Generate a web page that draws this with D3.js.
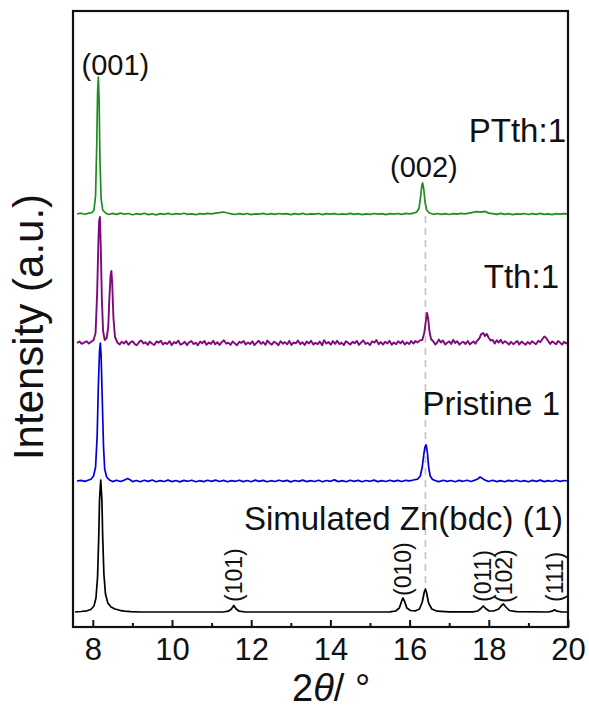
<!DOCTYPE html>
<html>
<head>
<meta charset="utf-8">
<script src="https://cdn.jsdelivr.net/npm/d3@7"></script>
<style>
  html, body { margin: 0; padding: 0; background: #fff; }
  svg text { font-family: "Liberation Sans", Arial, sans-serif; fill: #111; }
</style>
</head>
<body>
<svg id="chart" width="589" height="712"></svg>
<script>
// ---------------- DATA ----------------
const xTicks = [8, 10, 12, 14, 16, 18, 20];
const xMinorTicks = [9, 11, 13, 15, 17, 19];
const seriesNames = ["Simulated Zn(bdc) (1)", "Pristine 1", "Tth:1", "PTth:1"];
const seriesOffsets = [15, 146, 284, 413];
const seriesColors = ["#000000", "#0000d8", "#7d0a7d", "#1e8c1e"];

// [2theta, intensity above own baseline]
const simulatedPts = [
  [7.55,0],[7.7,0.5],[7.85,1.2],[7.95,2.5],[8.03,6],[8.08,14],[8.12,35],[8.15,75],[8.17,112],[8.2,132],
  [8.23,112],[8.25,75],[8.28,38],[8.32,18],[8.38,9],[8.46,5],[8.56,3],[8.68,1.7],[8.8,0.9],[8.95,0.3],
  [9.2,0],[11.3,0],[11.42,0.8],[11.5,3],[11.56,6.5],[11.62,3],[11.7,0.8],[11.85,0],[15.5,0.2],[15.65,1],
  [15.74,4],[15.8,11],[15.83,14],[15.87,11],[15.93,4],[16.02,1.5],[16.15,1.2],[16.25,3],[16.32,10],[16.37,20],
  [16.4,23],[16.43,19],[16.48,9],[16.56,3],[16.7,0.8],[17.0,0.2],[17.6,0.2],[17.72,1],[17.8,3.5],[17.86,6],
  [17.92,3.5],[18.0,1.2],[18.12,1],[18.25,3],[18.32,6.5],[18.37,8],[18.43,5],[18.52,1.5],[18.7,0.3],[19.5,0],
  [19.6,0.8],[19.66,2.2],[19.72,0.8],[19.85,0],[20.0,0]
];

const pristinePts = [
  [7.6,0],[7.7,0.6],[7.8,-0.4],[7.88,0.8],[7.95,1.8],[8.02,5],[8.07,14],[8.11,45],[8.14,95],[8.17,130],
  [8.19,138],[8.21,125],[8.24,80],[8.27,35],[8.3,12],[8.35,4],[8.42,1],[8.5,-0.6],[8.6,0.8],[8.7,-0.5],
  [8.8,0.9],[8.88,2.5],[8.94,1.2],[9.0,-0.6],[9.1,0.5],[9.2,-0.8],[9.3,0.7],[9.4,-0.4],[9.5,1],[9.6,-0.7],
  [9.7,0.4],[9.8,-0.5],[9.9,0.9],[10.0,-0.6],[10.1,0.5],[10.2,-0.9],[10.3,0.6],[10.4,-0.3],[10.5,0.8],[10.6,-0.7],
  [10.7,0.3],[10.8,-0.6],[10.9,0.7],[11.0,-0.4],[11.1,0.9],[11.2,-0.5],[11.3,0.6],[11.4,-0.8],[11.5,0.4],[11.6,-0.3],
  [11.7,0.8],[11.8,-0.6],[11.9,0.5],[12.0,-0.7],[12.1,0.9],[12.2,-0.4],[12.3,0.6],[12.4,-0.8],[12.5,0.3],[12.6,-0.5],
  [12.7,0.8],[12.8,-0.3],[12.9,0.6],[13.0,-0.9],[13.1,0.5],[13.2,-0.4],[13.3,0.9],[13.4,-0.6],[13.5,0.4],[13.6,-0.5],
  [13.7,0.7],[13.8,-0.8],[13.9,0.5],[14.0,-0.3],[14.1,1.1],[14.2,-0.6],[14.3,0.4],[14.4,-0.7],[14.5,0.8],[14.6,-0.4],
  [14.7,0.6],[14.8,-0.8],[14.9,0.5],[15.0,-0.3],[15.1,0.9],[15.2,-0.6],[15.3,0.4],[15.4,-0.5],[15.5,0.8],[15.6,-0.4],
  [15.7,0.6],[15.8,-0.5],[15.9,0.7],[16.0,0.2],[16.1,1],[16.2,1.8],[16.27,5],[16.32,14],[16.36,27],[16.39,34],
  [16.42,36],[16.45,28],[16.48,14],[16.52,5],[16.58,1.5],[16.66,0.2],[16.75,-0.6],[16.85,0.7],[16.95,-0.4],[17.05,0.5],
  [17.15,-0.7],[17.25,0.6],[17.35,-0.3],[17.45,0.8],[17.55,-0.5],[17.65,0.9],[17.72,2],[17.78,4],[17.84,2.5],[17.92,0.6],
  [18.0,-0.5],[18.1,0.7],[18.2,-0.6],[18.3,0.4],[18.4,-0.8],[18.5,0.6],[18.6,-0.3],[18.7,0.8],[18.8,-0.5],[18.9,0.4],
  [19.0,-0.7],[19.1,0.6],[19.2,-0.4],[19.3,0.9],[19.4,-0.6],[19.5,0.3],[19.6,-0.5],[19.7,0.8],[19.8,-0.4],[19.9,0.5],
  [20.0,0]
];

const tthPts = [
  [7.6,0],[7.66,1.5],[7.72,-0.8],[7.78,0.4],[7.84,1.8],[7.9,-0.6],[7.96,1.2],[8.02,3],[8.07,10],[8.11,50],
  [8.14,100],[8.16,122],[8.18,126],[8.2,98],[8.23,42],[8.26,12],[8.3,3],[8.35,5],[8.39,16],[8.42,46],
  [8.45,68],[8.47,72],[8.49,60],[8.52,26],[8.56,6],[8.62,0.5],[8.68,-1.5],[8.73,1.2],[8.79,-0.4],[8.84,2.0],
  [8.9,-1.8],[8.95,0.6],[9.0,1.8],[9.06,-1.2],[9.11,-2.2],[9.17,1.0],[9.22,2.6],[9.28,-0.5],[9.33,0.8],[9.39,-1.9],
  [9.44,1.4],[9.5,-0.8],[9.55,-2.0],[9.61,1.6],[9.66,0.2],[9.72,2.2],[9.77,-1.4],[9.83,0.4],[9.88,-1.0],[9.94,1.8],
  [9.99,-2.2],[10.05,0.9],[10.1,-0.3],[10.16,2.4],[10.21,-1.6],[10.27,-0.6],[10.32,1.3],[10.38,-2.1],[10.43,0.7],[10.49,1.9],
  [10.54,-1.1],[10.6,0.3],[10.65,-2.3],[10.71,1.5],[10.76,-0.2],[10.82,2.0],[10.87,-1.7],[10.93,0.5],[10.98,-0.9],[11.04,2.3],
  [11.09,-1.3],[11.15,0.8],[11.2,-2.0],[11.26,1.1],[11.31,2.7],[11.37,-0.8],[11.42,0.4],[11.48,-1.9],[11.53,1.6],[11.59,-0.6],
  [11.64,-2.2],[11.7,1.2],[11.75,0.1],[11.81,2.1],[11.86,-1.5],[11.92,0.6],[11.97,-1.0],[12.03,1.7],[12.08,-2.1],[12.14,0.3],
  [12.19,2.2],[12.25,-0.9],[12.3,1.0],[12.36,-1.8],[12.41,2.5],[12.47,-0.4],[12.52,-1.6],[12.58,1.3],[12.63,0.0],[12.69,-2.2],
  [12.74,1.8],[12.8,-0.7],[12.85,0.9],[12.91,-1.4],[12.96,2.1],[13.02,-1.9],[13.07,0.5],[13.13,-0.3],[13.18,2.4],[13.24,-1.2],
  [13.29,0.8],[13.35,-2.0],[13.4,1.5],[13.46,-0.5],[13.51,2.3],[13.57,-1.6],[13.62,0.2],[13.68,-1.1],[13.73,1.4],[13.79,-2.3],
  [13.84,2.8],[13.9,-0.6],[13.95,1.0],[14.01,-1.7],[14.06,1.9],[14.12,-0.9],[14.17,2.3],[14.23,-1.3],[14.28,0.4],[14.34,-2.1],
  [14.39,1.7],[14.45,0.1],[14.5,-1.5],[14.56,1.2],[14.61,-0.3],[14.67,2.0],[14.72,-1.9],[14.78,0.7],[14.83,2.5],[14.89,-1.0],
  [14.94,0.3],[15.0,-2.1],[15.05,1.6],[15.11,0.4],[15.16,2.9],[15.22,-1.2],[15.27,0.9],[15.33,-1.6],[15.38,1.3],[15.44,-0.5],
  [15.49,2.2],[15.55,-1.8],[15.6,0.6],[15.66,-1.2],[15.71,1.8],[15.77,-0.4],[15.82,2.0],[15.88,-1.5],[15.93,0.7],[15.99,-1.1],
  [16.04,1.9],[16.1,-0.6],[16.15,2.1],[16.2,0.4],[16.26,2.6],[16.32,3],[16.37,10],[16.41,22],[16.44,30],[16.47,24],
  [16.5,12],[16.54,4],[16.6,1.5],[16.65,-1.5],[16.7,0.6],[16.74,3.5],[16.79,0.5],[16.84,2.6],[16.9,-1.4],[16.95,0.2],
  [17.0,1.6],[17.05,-1.0],[17.1,3.2],[17.15,0],[17.2,1.8],[17.26,-1.6],[17.31,0.4],[17.36,1.2],[17.41,-1.0],[17.47,2],
  [17.52,-1.4],[17.57,0.3],[17.62,1.6],[17.66,-0.8],[17.71,2.4],[17.76,4.5],[17.81,9],[17.86,10],[17.9,7],[17.95,9],
  [18.0,5],[18.05,2.4],[18.1,3.0],[18.15,-0.6],[18.2,2.8],[18.25,0.4],[18.3,3.2],[18.35,-0.4],[18.41,1.8],[18.46,0.2],
  [18.51,-1.6],[18.56,1.2],[18.62,-1.2],[18.67,0.6],[18.72,2.0],[18.77,-1.4],[18.83,1.4],[18.88,-0.2],[18.93,-1.8],[18.98,1.0],
  [19.04,-1.0],[19.09,1.8],[19.14,0.2],[19.19,-1.2],[19.25,2.2],[19.3,0.8],[19.35,3.8],[19.4,6.5],[19.45,5],[19.5,2],
  [19.55,-1],[19.6,1.6],[19.65,0.2],[19.7,-1.2],[19.75,2],[19.8,0.4],[19.85,-1.6],[19.9,1.2],[19.95,-0.4],[20.0,0.6]
];

const ptthPts = [
  [7.6,0],[7.7,0.8],[7.8,-0.3],[7.9,0.9],[7.98,1.5],[8.03,4],[8.07,18],[8.1,70],[8.12,120],[8.14,137],
  [8.16,112],[8.18,55],[8.21,15],[8.25,4],[8.32,1],[8.4,-0.5],[8.5,0.6],[8.6,-0.4],[8.7,0.9],[8.8,-0.2],
  [8.9,0.5],[9.0,-0.8],[9.1,0.3],[9.2,-0.4],[9.3,0.7],[9.4,-0.6],[9.5,0.2],[9.6,-0.9],[9.7,0.4],[9.8,-0.3],
  [9.9,0.6],[10.0,-0.5],[10.1,0.3],[10.2,-0.2],[10.3,0.8],[10.4,-0.4],[10.5,0.2],[10.6,-0.7],[10.7,0.4],[10.8,-0.1],
  [10.9,0.6],[11.0,0.1],[11.1,0.9],[11.2,1.4],[11.3,2.0],[11.4,1.0],[11.5,0.1],[11.6,-0.5],[11.7,0.4],[11.8,-0.3],
  [11.9,0.5],[12.0,-0.6],[12.1,0.2],[12.2,-0.2],[12.3,0.6],[12.4,-0.5],[12.5,0.3],[12.6,-0.4],[12.7,0.5],[12.8,-0.1],
  [12.9,0.4],[13.0,-0.6],[13.1,0.3],[13.2,-0.3],[13.3,0.6],[13.4,-0.5],[13.5,0.2],[13.6,-0.2],[13.7,0.5],[13.8,-0.6],
  [13.9,0.3],[14.0,-0.2],[14.1,0.4],[14.2,-0.5],[14.3,0.2],[14.4,-0.3],[14.5,0.6],[14.6,-0.4],[14.7,0.3],[14.8,-0.6],
  [14.9,0.2],[15.0,-0.3],[15.1,0.5],[15.2,-0.2],[15.3,0.4],[15.4,-0.6],[15.5,0.3],[15.6,-0.1],[15.7,0.5],[15.8,-0.4],
  [15.9,0.6],[16.0,0.1],[16.1,0.9],[16.18,2],[16.24,6],[16.28,18],[16.31,29],[16.33,31],[16.36,24],[16.39,12],
  [16.43,4],[16.5,1],[16.6,-0.3],[16.7,0.5],[16.8,-0.4],[16.9,0.3],[17.0,-0.5],[17.1,0.4],[17.2,-0.2],[17.3,0.6],
  [17.4,0.1],[17.5,0.8],[17.6,1.6],[17.7,2.4],[17.8,1.8],[17.9,2.6],[18.0,0.9],[18.1,0.3],[18.2,-0.4],[18.3,0.6],
  [18.4,-0.3],[18.5,0.4],[18.6,-0.6],[18.7,0.2],[18.8,-0.2],[18.9,0.5],[19.0,-0.5],[19.1,0.3],[19.2,-0.3],[19.3,0.6],
  [19.4,-0.4],[19.5,0.2],[19.6,-0.6],[19.7,0.3],[19.8,-0.2],[19.9,0.4],[20.0,0]
];

const seriesPoints = [simulatedPts, pristinePts, tthPts, ptthPts];

const hklLabels = ["(101)", "(010)", "(011)", "(102)", "(111)"];
const hklPositions = [11.56, 15.83, 17.86, 18.37, 19.66];
const hklLabelBase = [25, 31, 25, 24, 25];   // intensity level where label starts

const peakLabels = ["(001)", "(002)"];
const peakLabelPos = [8.57, 16.36];
const peakLabelLevel = [552, 450];

const refLine = 16.4;   // dashed guide position

// ---------------- CHART ----------------
const svg = d3.select("#chart");
const x = d3.scaleLinear().domain([7.5, 20]).range([73, 568]);
const y = d3.scaleLinear().domain([0, 616]).range([627, 11]);

// dashed guide line
svg.append("line")
  .attr("x1", x(refLine)).attr("x2", x(refLine))
  .attr("y1", y(seriesOffsets[3] - 2)).attr("y2", y(seriesOffsets[0] + 24))
  .attr("stroke", "#c4c4c4").attr("stroke-width", 1.6)
  .attr("stroke-dasharray", "7,5");

const line = d3.line().x(d => x(d[0])).y(d => y(d[1]));

seriesPoints.forEach((pts, i) => {
  const off = seriesOffsets[i];
  svg.append("path")
    .datum(pts.map(p => [p[0], p[1] + off]))
    .attr("fill", "none")
    .attr("stroke", seriesColors[i])
    .attr("stroke-width", i === 2 ? 1.9 : 1.7)
    .attr("stroke-linejoin", "round")
    .attr("d", line);
});

// frame
svg.append("rect")
  .attr("x", 73).attr("y", 11).attr("width", 568 - 73).attr("height", 627 - 11)
  .attr("fill", "none").attr("stroke", "#111").attr("stroke-width", 2.2);

// bottom axis, ticks inward
const gx = svg.append("g").attr("transform", "translate(0,627)")
  .call(d3.axisBottom(x).tickValues(xTicks).tickSize(-7).tickPadding(11).tickFormat(d3.format("d")));
gx.select(".domain").remove();
gx.selectAll("line").attr("stroke", "#111").attr("stroke-width", 2);
gx.selectAll("text").attr("font-size", 31).attr("fill", "#111")
  .style("font-family", '"Liberation Sans", Arial, sans-serif');

const gm = svg.append("g").attr("transform", "translate(0,627)")
  .call(d3.axisBottom(x).tickValues(xMinorTicks).tickSize(-4).tickFormat(""));
gm.select(".domain").remove();
gm.selectAll("line").attr("stroke", "#111").attr("stroke-width", 2);

// axis titles
svg.append("text")
  .attr("transform", "translate(43,327) rotate(-90)")
  .attr("text-anchor", "middle")
  .attr("font-size", 42)
  .text("Intensity (a.u.)");

const xt = svg.append("text").attr("x", 292).attr("y", 701).attr("font-size", 38);
xt.append("tspan").text("2");
xt.append("tspan").attr("font-style", "italic").text("θ");
xt.append("tspan").text("/ °");

// series labels
const seriesLabelY = [530, 415, 288, 142];
const seriesLabelX = [563, 560, 559, 566];
seriesNames.forEach((n, i) => {
  svg.append("text")
    .attr("x", seriesLabelX[i]).attr("y", seriesLabelY[i])
    .attr("text-anchor", "end").attr("font-size", 33)
    .text(n);
});

// (001), (002)
peakLabels.forEach((t, i) => {
  svg.append("text")
    .attr("x", x(peakLabelPos[i])).attr("y", y(peakLabelLevel[i]))
    .attr("text-anchor", "middle").attr("font-size", 29)
    .text(t);
});

// rotated hkl labels for simulated pattern
hklLabels.forEach((t, i) => {
  svg.append("text")
    .attr("transform", `translate(${x(hklPositions[i])},${y(hklLabelBase[i])}) rotate(-90)`)
    .attr("dy", "0.35em")
    .attr("font-size", 23)
    .text(t);
});
</script>
</body>
</html>
